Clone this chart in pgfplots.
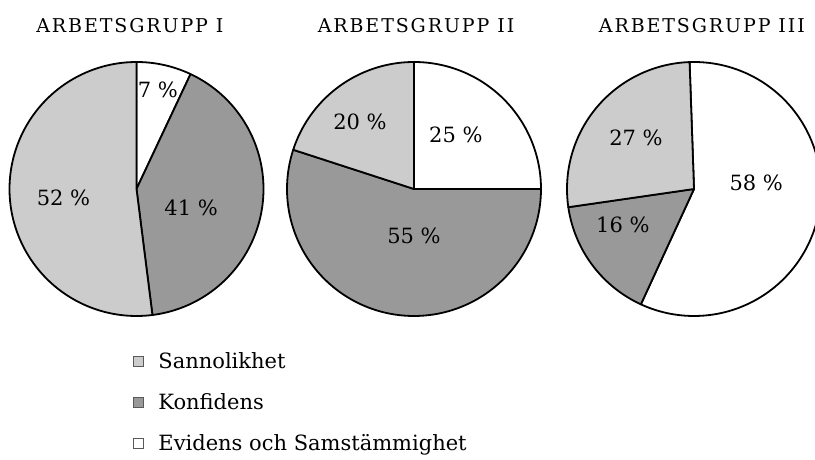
\documentclass[border=0pt]{standalone}
\usepackage{fontspec}
\setmainfont{DejaVu Serif}
\usepackage{pgfplots}
\pgfplotsset{compat=1.18}
\definecolor{light}{HTML}{CCCCCC}
\definecolor{dark}{HTML}{999999}
\newcommand\labfont{\fontsize{21}{25}\selectfont}
\newcommand\titfont{\fontsize{19}{23}\selectfont\addfontfeature{LetterSpace=10}}
\pgfplotsset{
  pieaxis/.style={
    width=254pt, height=254pt, scale only axis,
    xmin=-1, xmax=1, ymin=-1, ymax=1,
    hide axis, clip=false, anchor=center,
    title style={font=\titfont, anchor=base, yshift=23.6pt, inner sep=0pt},
  },
}
\tikzset{lab/.style={font=\labfont, inner sep=0pt, anchor=center}}
% start angle, white (Evidens), dark (Konfidens), light (Sannolikhet)
\newcommand\pieangles[4]{%
  \pgfmathsetmacro\tot{#2+#3+#4}%
  \pgfmathsetmacro\aA{#1}%
  \pgfmathsetmacro\aB{#1-#2/\tot*360}%
  \pgfmathsetmacro\aC{\aB-#3/\tot*360}%
  \pgfmathsetmacro\aD{#1-360}%
}
\newcommand\slice[3]{%
  \addplot[forget plot, draw=black, line width=1.8pt, line join=round, fill=#3,
    domain=#2:#1, samples=120, variable=\t]
    ({cos(\t)}, {sin(\t)}) -- (axis cs:0,0) -- cycle;
}
\newcommand\slices{%
  \slice{\aA}{\aB}{white}
  \slice{\aB}{\aC}{dark}
  \slice{\aC}{\aD}{light}
}
\begin{document}
\begin{tikzpicture}
\path[use as bounding box] (0pt,0pt) rectangle (815pt,460pt);

\pieangles{90}{7}{41}{52}
\begin{axis}[pieaxis, at={(136.5pt,271pt)},
  title={ARBETSGRUPP I}, title style={at={(0.474,1)}},
  legend style={at={(0.484,-0.1417)}, anchor=north west, draw=none, fill=none,
    font=\labfont, inner sep=0pt, row sep=20pt, column sep=15pt,
    nodes={inner sep=0pt, text height=16pt, text depth=5pt}},
  legend cell align=left]
\slices
\node[lab] at (axis cs:0.169,0.78) {7 \%};
\node[lab] at (axis cs:0.43,-0.15) {41 \%};
\node[lab] at (axis cs:-0.575,-0.07) {52 \%};
\addlegendimage{legend image code/.code={\draw[fill=light, draw=black!65, line width=0.8pt] (0pt,-4pt) rectangle (10pt,6pt);}}
\addlegendentry{Sannolikhet}
\addlegendimage{legend image code/.code={\draw[fill=dark, draw=black!65, line width=0.8pt] (0pt,-4pt) rectangle (10pt,6pt);}}
\addlegendentry{Konfidens}
\addlegendimage{legend image code/.code={\draw[fill=white, draw=black!65, line width=0.8pt] (0pt,-4pt) rectangle (10pt,6pt);}}
\addlegendentry{Evidens och Samstämmighet}
\end{axis}

\pieangles{90}{25}{55}{20}
\begin{axis}[pieaxis, at={(414pt,271pt)},
  title={ARBETSGRUPP II}, title style={at={(0.508,1)}}]
\slices
\node[lab] at (axis cs:0.33,0.425) {25 \%};
\node[lab] at (axis cs:0,-0.37) {55 \%};
\node[lab] at (axis cs:-0.425,0.53) {20 \%};
\end{axis}

\pieangles{92}{58}{16}{27}
\begin{axis}[pieaxis, at={(694pt,271pt)},
  title={ARBETSGRUPP III}, title style={at={(0.531,1)}}]
\slices
\node[lab] at (axis cs:0.49,0.047) {58 \%};
\node[lab] at (axis cs:-0.56,-0.28) {16 \%};
\node[lab] at (axis cs:-0.457,0.40) {27 \%};
\end{axis}
\end{tikzpicture}
\end{document}
